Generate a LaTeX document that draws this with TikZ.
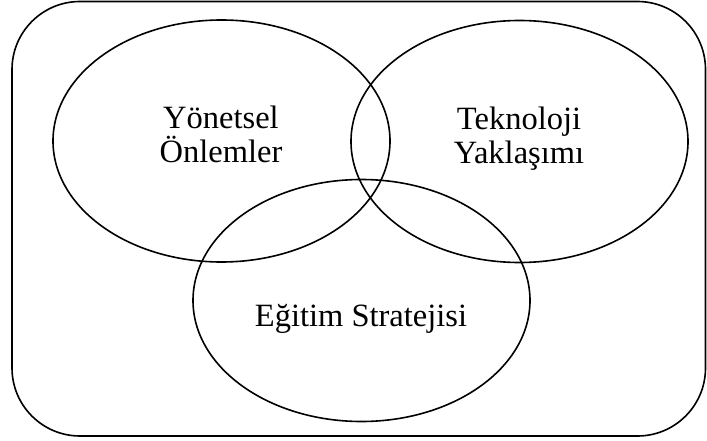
\documentclass[tikz,border=0pt]{standalone}
\usepackage{fontspec}
\setmainfont{Liberation Serif}
\usetikzlibrary{shapes.geometric}
\begin{document}
\begin{tikzpicture}[x=1pt,y=-1pt,
  setline/.style={draw=black,line width=1.6pt},
  setellipse/.style={setline,ellipse,inner sep=0pt,minimum width=337pt,minimum height=242pt},
  setlabel/.style={font=\fontsize{32.5}{34}\selectfont,align=center,inner sep=0pt,anchor=base}]
\useasboundingbox (0,0) rectangle (707,441);
\draw[setline,rounded corners=68pt] (12,1.5) rectangle (705.5,436);
\node[setellipse] (e1) at (221.5,141) {};
\node[setellipse] (e2) at (519.5,141.5) {};
\node[setellipse] (e3) at (361.5,300.5) {};
\node[setlabel] (t1) at (221,163) {Yönetsel\\Önlemler};
\node[setlabel] (t2) at (519,163.5) {Teknoloji\\Yaklaşımı};
\node[setlabel] (t3) at (361,326) {Eğitim Stratejisi};
\end{tikzpicture}
\end{document}
